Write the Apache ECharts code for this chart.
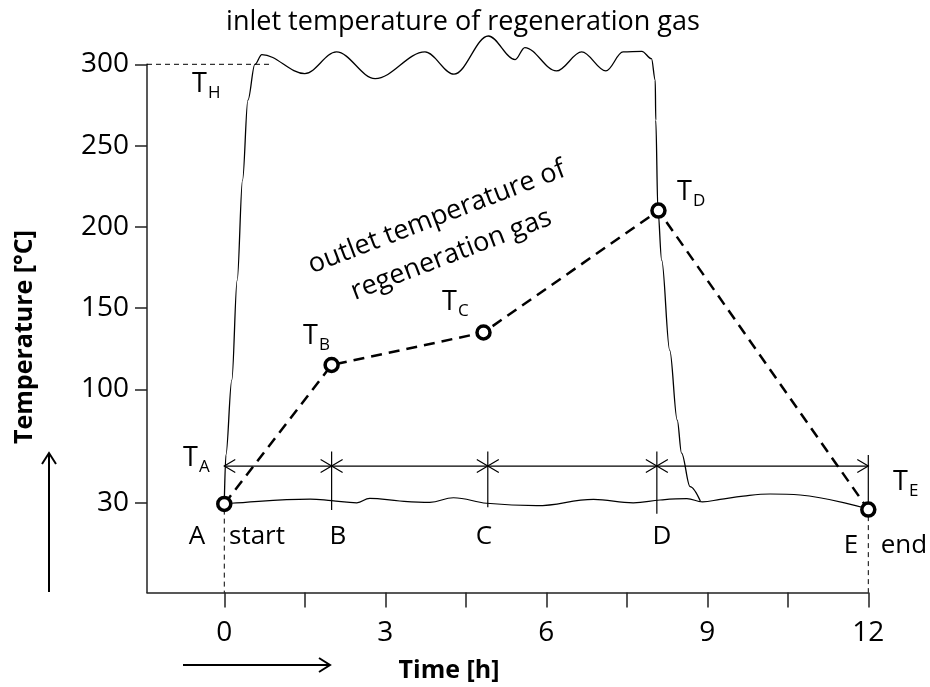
<!DOCTYPE html>
<html>
<head>
<meta charset="utf-8">
<title>Regeneration gas temperature</title>
<script src="https://cdn.jsdelivr.net/npm/echarts@6.0.0/dist/echarts.min.js"></script>
<style>
  html, body { margin: 0; padding: 0; background: #fff; }
  #chart { width: 930px; height: 687px; }
</style>
</head>
<body>
<div id="chart"></div>
<script>
// time [h], temperature [°C]
var inletCurve = [
  [0, 30], [0.03, 59.6], [0.14, 105.7], [0.24, 167], [0.34, 228.7], [0.44, 277.9],
  [0.57, 300], [0.70, 306], [1.50, 294.3], [2.09, 307.6], [2.81, 291.2], [3.74, 307.6],
  [4.28, 293.9], [4.92, 317.4], [5.42, 302.9], [5.60, 310.3], [6.19, 295.9], [6.66, 307.6],
  [7.11, 295.9], [7.43, 307.6], [7.78, 308], [7.96, 303.5], [8.03, 290.2], [8.04, 265.6],
  [8.08, 210.2], [8.15, 179.5], [8.30, 124], [8.44, 81.1], [8.52, 60.8], [8.68, 40.1], [8.87, 31.3]
];
var baseCurve = [
  [0, 29.5], [0.12, 29.9], [1.60, 32.5], [2.00, 31.5], [2.47, 30.2], [2.71, 32.9], [3.27, 31.3],
  [3.83, 30.5], [4.27, 33.3], [4.89, 29.9], [5.82, 28.4], [6.88, 32.3], [7.62, 30.2], [8.12, 31.9],
  [8.62, 32.7], [8.91, 30.8], [9.24, 32.3], [9.67, 34.3], [10.17, 35.6], [10.73, 35], [12, 26.4]
];
var outletPoints = [[0, 29.5], [2.0, 115], [4.83, 135], [8.09, 210], [12, 26]];

var guideStart = [[0, 26], [0, -25]];
var guideEnd = [[12, 22], [12, -25]];
var guideTH = [[-1.44, 300], [0.88, 300]];

var dimLevel = 52.8;
var dimSegments = [[0, 2.0], [2.0, 4.91], [4.91, 8.06], [8.06, 12]];
var dimMarks = [[2.0, 61.7, 25.7], [4.91, 61.7, 27.5], [8.06, 61.7, 23.5], [12, 59.6, 30]];

var xTicks = [0, 1.5, 3, 4.5, 6, 7.5, 9, 10.5, 12];
var xLabels = [0, 3, 6, 9, 12];
var yLabels = [30, 100, 150, 200, 250, 300];

var FONT = '"Open Sans", "Noto Sans", sans-serif';

function txt(x, y, s, size, extra) {
  var st = { text: s, x: x, y: y, fill: '#000', font: (size || 26) + 'px ' + FONT,
             textAlign: 'center', textVerticalAlign: 'middle' };
  if (extra) for (var k in extra) st[k] = extra[k];
  return { type: 'text', silent: true, style: st };
}
// T with subscript, x = left of T, y = middle of T
function tsub(x, y, sub) {
  return [
    txt(x, y, 'T', 27, { textAlign: 'left' }),
    txt(x + 16, y + 9, sub, 17, { textAlign: 'left' })
  ];
}
function arrowLine(pts, head) {
  return [
    { type: 'polyline', silent: true, shape: { points: pts }, style: { stroke: '#000', lineWidth: 2, fill: null } },
    { type: 'polyline', silent: true, shape: { points: head }, style: { stroke: '#000', lineWidth: 2, fill: null } }
  ];
}

var graphics = [
  txt(463, 22, 'inlet temperature of regeneration gas', 27),
  {
    type: 'text', silent: true, x: 444, y: 236, rotation: 0.366,
    style: { text: 'outlet temperature of\nregeneration gas', fill: '#000', font: '27px ' + FONT,
             textAlign: 'center', textVerticalAlign: 'middle', lineHeight: 40 }
  },
  txt(197, 537, 'A'), txt(257, 537, 'start'), txt(338, 537, 'B'), txt(484, 537, 'C'),
  txt(662, 537, 'D'), txt(851, 546, 'E'), txt(904, 546, 'end'),
  {
    type: 'text', silent: true, x: 25, y: 337, rotation: Math.PI / 2,
    style: { text: 'Temperature [°C]', fill: '#000', font: 'bold 25px ' + FONT,
             textAlign: 'center', textVerticalAlign: 'middle' }
  },
  txt(449, 671, 'Time [h]', 25, { font: 'bold 25px ' + FONT })
];
graphics = graphics
  .concat(tsub(192, 84, 'H'), tsub(183, 458, 'A'), tsub(303, 336, 'B'),
          tsub(442, 302, 'C'), tsub(677, 192, 'D'), tsub(893, 482, 'E'))
  .concat(arrowLine([[49, 592], [49, 453]], [[42, 464], [49, 453], [56, 464]]))
  .concat(arrowLine([[183, 665], [330, 665]], [[319, 658], [330, 665], [319, 672]]));

function guide(data) {
  return {
    type: 'line', data: data, symbol: 'none', silent: true, clip: false,
    lineStyle: { color: '#000', width: 1, type: [5, 4] }
  };
}

var chart = echarts.init(document.getElementById('chart'), null, { renderer: 'canvas' });
chart.setOption({
  animation: false,
  backgroundColor: '#fff',
  textStyle: { fontFamily: FONT },
  grid: { left: 147, right: 61.7, top: 64.3, bottom: 94.5, containLabel: false, outerBoundsMode: 'none' },
  xAxis: {
    type: 'value', min: -1.44, max: 12,
    axisLine: { onZero: false, lineStyle: { color: '#222', width: 1.5 } },
    axisTick: { customValues: xTicks, length: 15, lineStyle: { color: '#222', width: 1.5 } },
    axisLabel: { customValues: xLabels, fontSize: 28, color: '#000', margin: 27, fontFamily: FONT },
    splitLine: { show: false }
  },
  yAxis: {
    type: 'value', min: -25, max: 300,
    axisLine: { show: true, onZero: false, lineStyle: { color: '#222', width: 1.5 } },
    axisTick: { show: true, customValues: yLabels, length: 12, lineStyle: { color: '#222', width: 1.5 } },
    axisLabel: { customValues: yLabels, fontSize: 28, color: '#000', margin: 18, fontFamily: FONT },
    splitLine: { show: false }
  },
  series: [
    {
      name: 'inlet', type: 'line', data: inletCurve, symbol: 'none', smooth: 0.35,
      smoothMonotone: 'x', clip: false, silent: true,
      lineStyle: { color: '#000', width: 1.3 }
    },
    {
      name: 'base', type: 'line', data: baseCurve, symbol: 'none', smooth: 0.4,
      clip: false, silent: true,
      lineStyle: { color: '#000', width: 1.2 }
    },
    guide(guideStart), guide(guideEnd), guide(guideTH),
    {
      name: 'dimension', type: 'custom', data: dimSegments, silent: true, clip: false,
      encode: { x: [0, 1] },
      renderItem: function (params, api) {
        var a = api.coord([api.value(0), dimLevel]);
        var b = api.coord([api.value(1), dimLevel]);
        var st = { stroke: '#000', lineWidth: 1.2, fill: null };
        return {
          type: 'group', children: [
            { type: 'line', shape: { x1: a[0], y1: a[1], x2: b[0], y2: b[1] }, style: st },
            { type: 'polyline', shape: { points: [[a[0] + 11, a[1] - 6.5], a, [a[0] + 11, a[1] + 6.5]] }, style: st },
            { type: 'polyline', shape: { points: [[b[0] - 11, b[1] - 6.5], b, [b[0] - 11, b[1] + 6.5]] }, style: st }
          ]
        };
      }
    },
    {
      name: 'marks', type: 'custom', data: dimMarks, silent: true, clip: false,
      encode: { x: 0, y: [1, 2] },
      renderItem: function (params, api) {
        var a = api.coord([api.value(0), api.value(1)]);
        var b = api.coord([api.value(0), api.value(2)]);
        return { type: 'line', shape: { x1: a[0], y1: a[1], x2: b[0], y2: b[1] },
                 style: { stroke: '#000', lineWidth: 1.2 } };
      }
    },
    {
      name: 'outlet', type: 'line', data: outletPoints, clip: false, silent: true, z: 5,
      symbol: 'circle', symbolSize: 13,
      itemStyle: { color: '#fff', borderColor: '#000', borderWidth: 3.5 },
      lineStyle: { color: '#000', width: 2.5, type: [11, 7] }
    }
  ],
  graphic: graphics
});
</script>
</body>
</html>
